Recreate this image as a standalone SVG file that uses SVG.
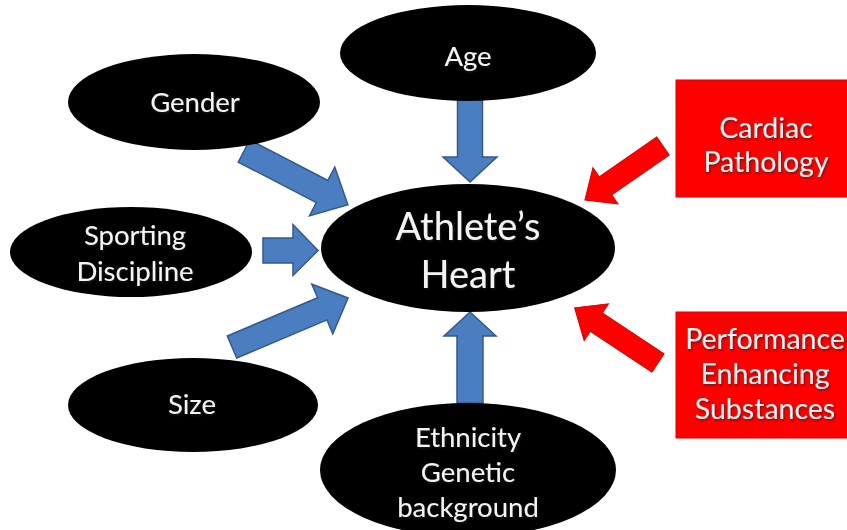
<svg xmlns="http://www.w3.org/2000/svg" width="847" height="530" viewBox="0 0 847 530">
<defs>
<style>
.node{fill:#000}
.box{fill:#ff0000;stroke:#e00000;stroke-width:1}
.t{font-family:Lato,"Open Sans","Liberation Sans",sans-serif;fill:#f4f4f4;text-anchor:middle;filter:url(#sh)}
.s{font-size:27.5px}
.b{font-size:28.5px}
.h{font-size:38px}
.ba{fill:#4a7ec0;stroke:#34598a;stroke-width:1.5;stroke-linejoin:miter}
.ra{fill:#ff0000;stroke:#d00000;stroke-width:1}
</style>
<filter id="sh" x="-10%" y="-20%" width="130%" height="150%">
<feDropShadow dx="1" dy="1.5" stdDeviation="1" flood-color="#222" flood-opacity="0.7"/>
</filter>
</defs>
<rect width="847" height="530" fill="#fff"/>
<g id="connectors">
<path class="ba" transform="translate(470,98) rotate(90)" d="M0,-12.5 H59 V-27 L84,0 L59,27 V12.5 H0 Z"/>
<path class="ba" transform="translate(470,403) rotate(-90)" d="M0,-13 H67 V-26 L91,0 L67,26 V13 H0 Z"/>
<path class="ba" transform="translate(263,250.5)" d="M0,-12.5 H30 V-26 L55,0 L30,25 V12.5 H0 Z"/>
<path class="ba" transform="translate(244,151) rotate(27.4)" d="M0,-12.5 H88 V-27.5 L117,0 L88,27.5 V12.5 H0 Z"/>
<path class="ba" transform="translate(232,347) rotate(-22.9)" d="M0,-12 H98 V-27 L126,0 L98,27 V12 H0 Z"/>
<path class="ra" transform="translate(663,146) rotate(145.3)" d="M0,-11 H70 V-22 L95,0 L70,22 V11 H0 Z"/>
<path class="ra" transform="translate(658,363) rotate(213.5)" d="M0,-11 H74 V-22 L100,0 L74,22 V11 H0 Z"/>
</g>
<g id="age"><ellipse class="node" cx="468" cy="53" rx="128" ry="48"/><text class="t s" x="468" y="66">Age</text></g>
<g id="gender"><ellipse class="node" cx="194" cy="102" rx="126" ry="48"/><text class="t s" x="195" y="112">Gender</text></g>
<g id="sporting"><ellipse class="node" cx="131" cy="252" rx="121" ry="45"/><text class="t s" x="135" y="245">Sporting</text><text class="t s" x="135" y="281">Discipline</text></g>
<g id="size"><ellipse class="node" cx="193" cy="405" rx="125" ry="47"/><text class="t s" x="192" y="414">Size</text></g>
<g id="heart"><ellipse class="node" cx="468" cy="248" rx="147" ry="64"/><text class="t h" x="468" y="240">Athlete’s</text><text class="t h" x="468" y="288">Heart</text></g>
<g id="ethnicity"><ellipse class="node" cx="468" cy="470" rx="148" ry="67"/><text class="t s" x="468" y="447">Ethnicity</text><text class="t s" x="468" y="482">Genetic</text><text class="t s" x="468" y="517">background</text></g>
<g id="cardiac"><rect class="box" x="676" y="80" width="175" height="117"/><text class="t b" x="766" y="138">Cardiac</text><text class="t b" x="766" y="172">Pathology</text></g>
<g id="performance"><rect class="box" x="676" y="312" width="175" height="126"/><text class="t b" x="765" y="349">Performance</text><text class="t b" x="765" y="384">Enhancing</text><text class="t b" x="765" y="419">Substances</text></g>
</svg>
